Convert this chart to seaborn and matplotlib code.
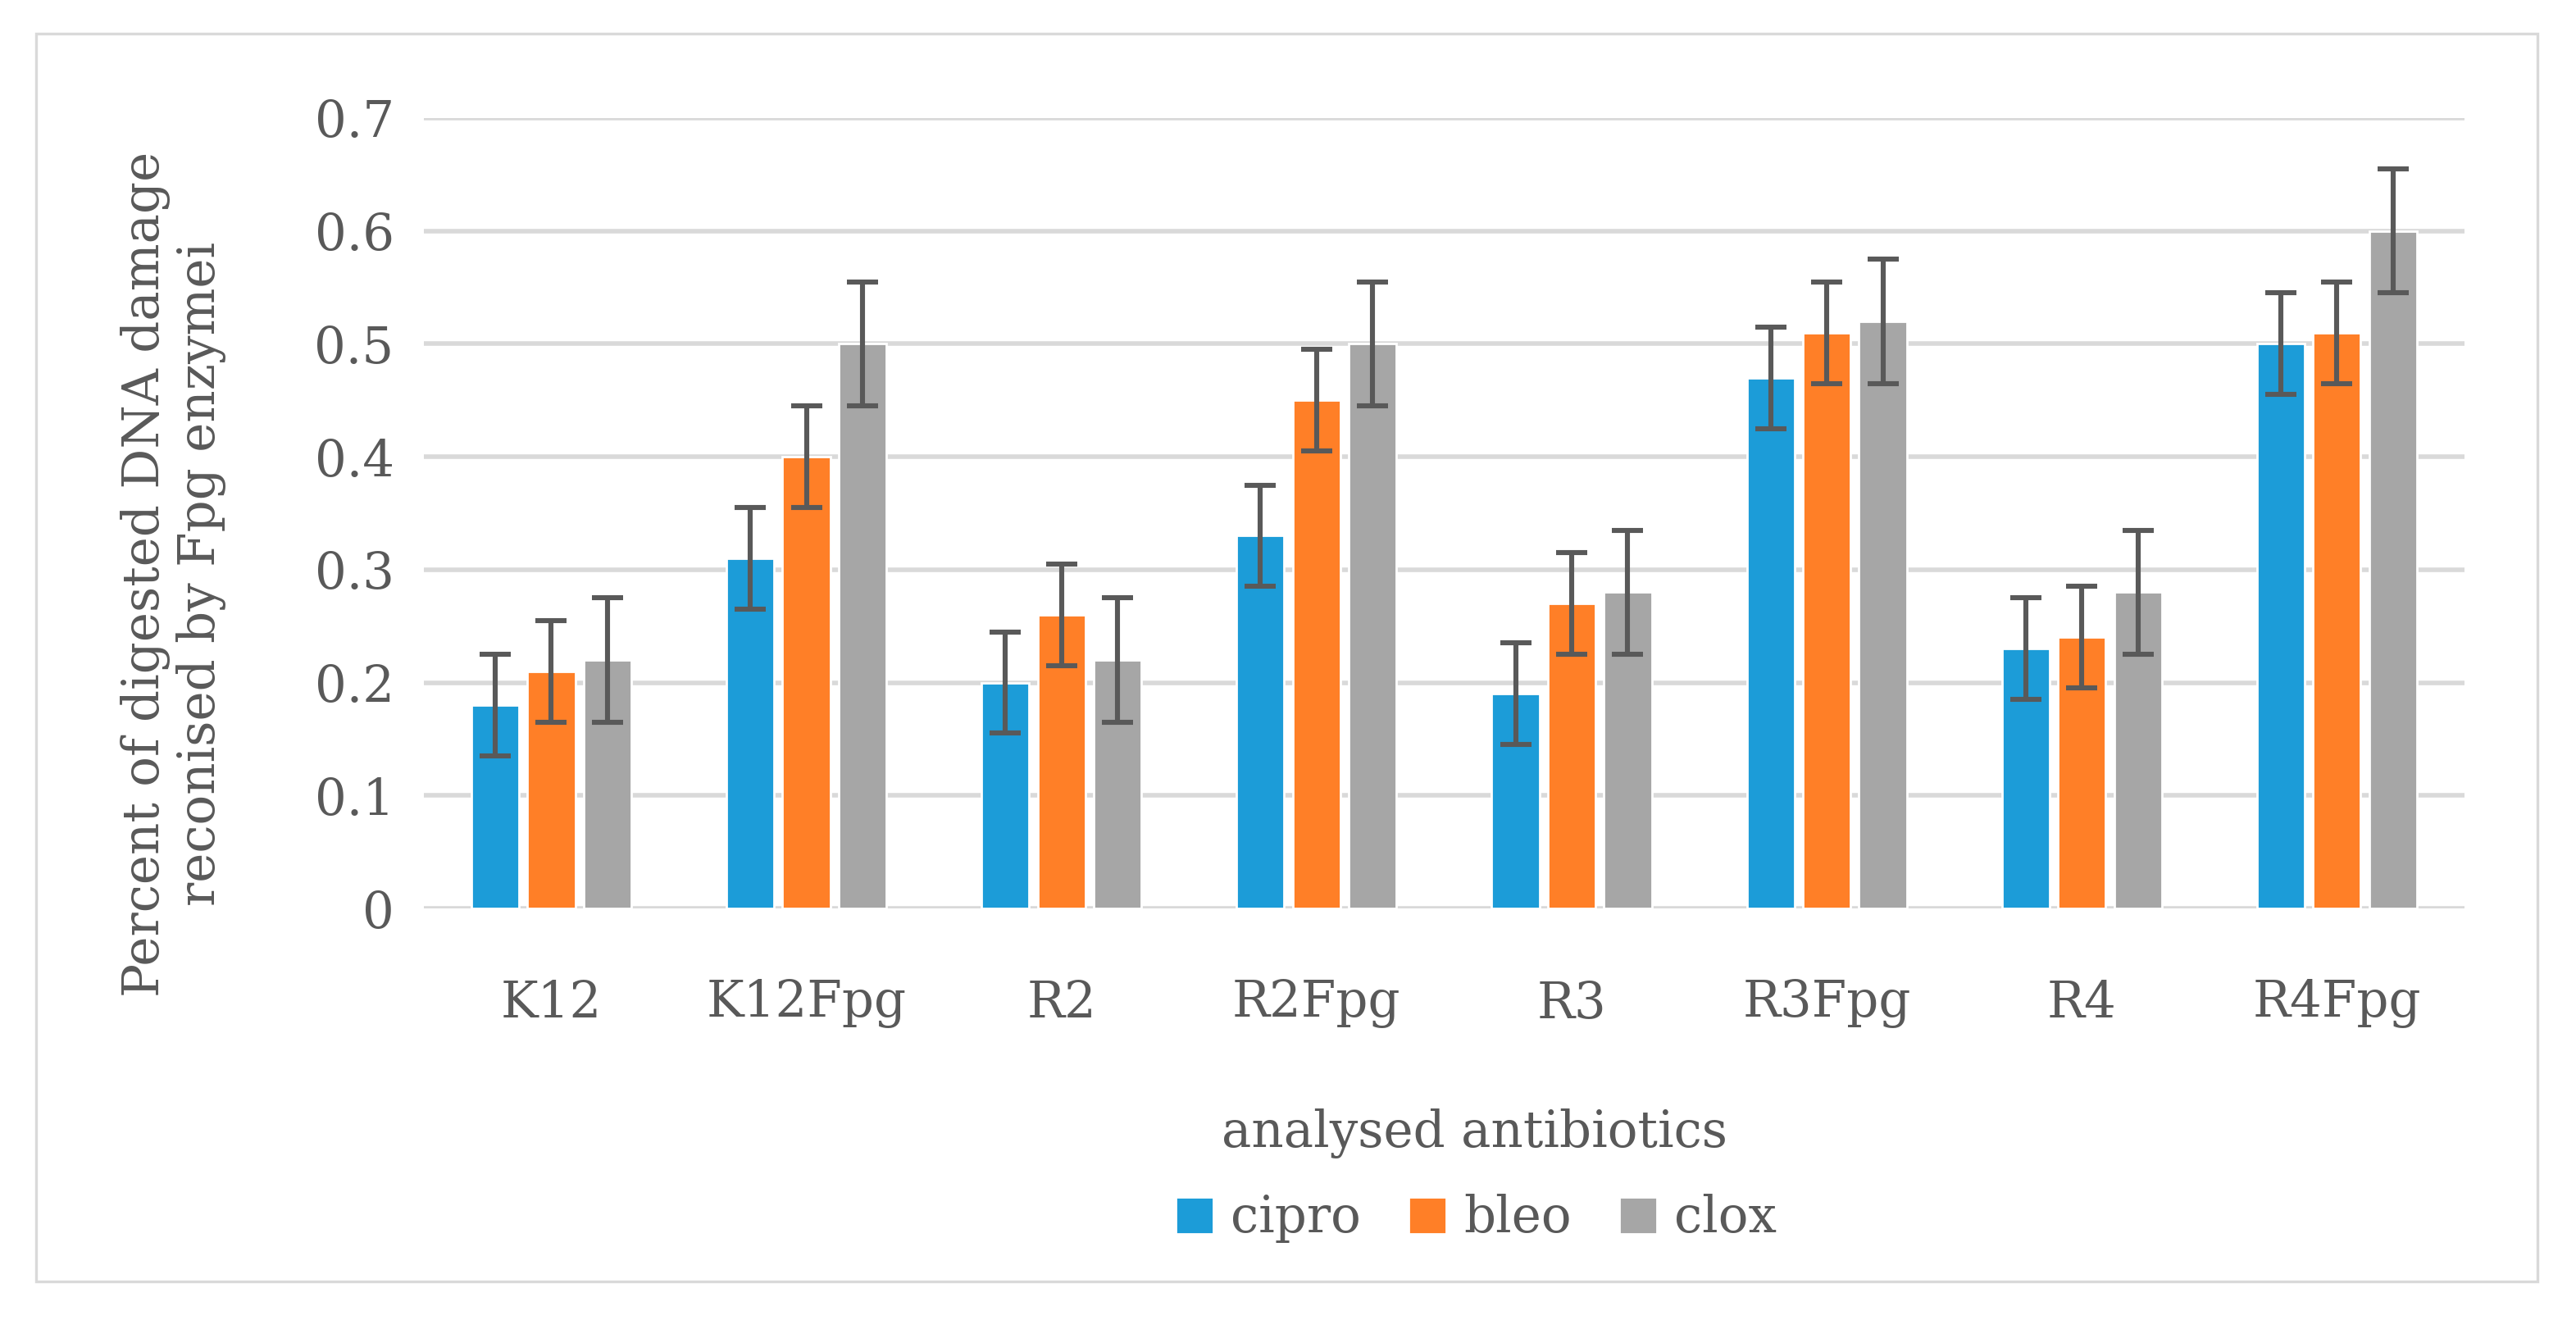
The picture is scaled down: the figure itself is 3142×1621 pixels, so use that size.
import matplotlib.pyplot as plt
import pandas as pd
import seaborn as sns
from matplotlib.patches import Rectangle

# values
strains = ["K12", "K12Fpg", "R2", "R2Fpg", "R3", "R3Fpg", "R4", "R4Fpg"]
antibiotics = ["cipro", "bleo", "clox"]
cipro = [0.18, 0.31, 0.20, 0.33, 0.19, 0.47, 0.23, 0.50]
bleo = [0.21, 0.40, 0.26, 0.45, 0.27, 0.51, 0.24, 0.51]
clox = [0.22, 0.50, 0.22, 0.50, 0.28, 0.52, 0.28, 0.60]
cipro_err = [0.045, 0.045, 0.045, 0.045, 0.045, 0.045, 0.045, 0.045]
bleo_err = [0.045, 0.045, 0.045, 0.045, 0.045, 0.045, 0.045, 0.045]
clox_err = [0.055, 0.055, 0.055, 0.055, 0.055, 0.055, 0.055, 0.055]
yticks = [0, 0.1, 0.2, 0.3, 0.4, 0.5, 0.6, 0.7]

colors = {"cipro": "#1C9CD8", "bleo": "#FF7F27", "clox": "#A6A6A6"}
text_color = "#595959"
grid_color = "#D9D9D9"

df = pd.DataFrame({
    "strain": strains * 3,
    "antibiotic": [a for a in antibiotics for _ in strains],
    "value": cipro + bleo + clox,
})

sns.set_theme(style="white")
plt.rcParams["font.family"] = ["DejaVu Serif", "DejaVu Sans"]

fig = plt.figure(figsize=(15.71, 8.105), dpi=200)
ax = fig.add_axes([0.1645, 0.3165, 0.7922, 0.5947])

sns.barplot(data=df, x="strain", y="value", hue="antibiotic", hue_order=antibiotics,
            palette=colors, saturation=1, width=0.66, gap=0.15, errorbar=None, ax=ax)

# error bars at the centre of each drawn bar
for container, errs in zip(ax.containers, [cipro_err, bleo_err, clox_err]):
    for bar, e in zip(container, errs):
        ax.errorbar(bar.get_x() + bar.get_width() / 2, bar.get_height(), yerr=e,
                    fmt="none", ecolor=text_color, elinewidth=2.2, capsize=6.8,
                    capthick=2.2, zorder=5)

ax.set_xlim(-0.5, len(strains) - 0.5)
ax.set_ylim(0, 0.7)
ax.set_yticks(yticks)
ax.set_yticklabels([f"{v:g}" for v in yticks])
ax.grid(axis="y", color=grid_color, linewidth=2)
ax.set_axisbelow(True)
for s in ax.spines.values():
    s.set_visible(False)
ax.tick_params(axis="y", length=0, pad=13, labelsize=22, labelcolor=text_color)
ax.tick_params(axis="x", length=0, pad=31, labelsize=22, labelcolor=text_color)
ax.set_xlabel("")
ax.set_ylabel("")

handles, labels = ax.get_legend_handles_labels()
ax.get_legend().remove()
fig.legend(handles, labels, loc="center", bbox_to_anchor=(0.573, 0.083), ncol=3,
           frameon=False, fontsize=22, labelcolor=text_color, handlelength=0.75,
           handleheight=0.75, handletextpad=0.35, columnspacing=0.95)

fig.text(0.5725, 0.147, "analysed antibiotics", ha="center", va="center",
         fontsize=22, color=text_color)
fig.text(0.0672, 0.568, "Percent of digested DNA damage\nreconised by Fpg enzymei",
         rotation=90, ha="center", va="center", fontsize=22, color=text_color,
         linespacing=1.15)

fig.patches.append(Rectangle((0.014, 0.036), 0.971, 0.939, transform=fig.transFigure,
                             fill=False, edgecolor=grid_color, linewidth=1.2))

fig.savefig("out.png", dpi=200, facecolor="white")
